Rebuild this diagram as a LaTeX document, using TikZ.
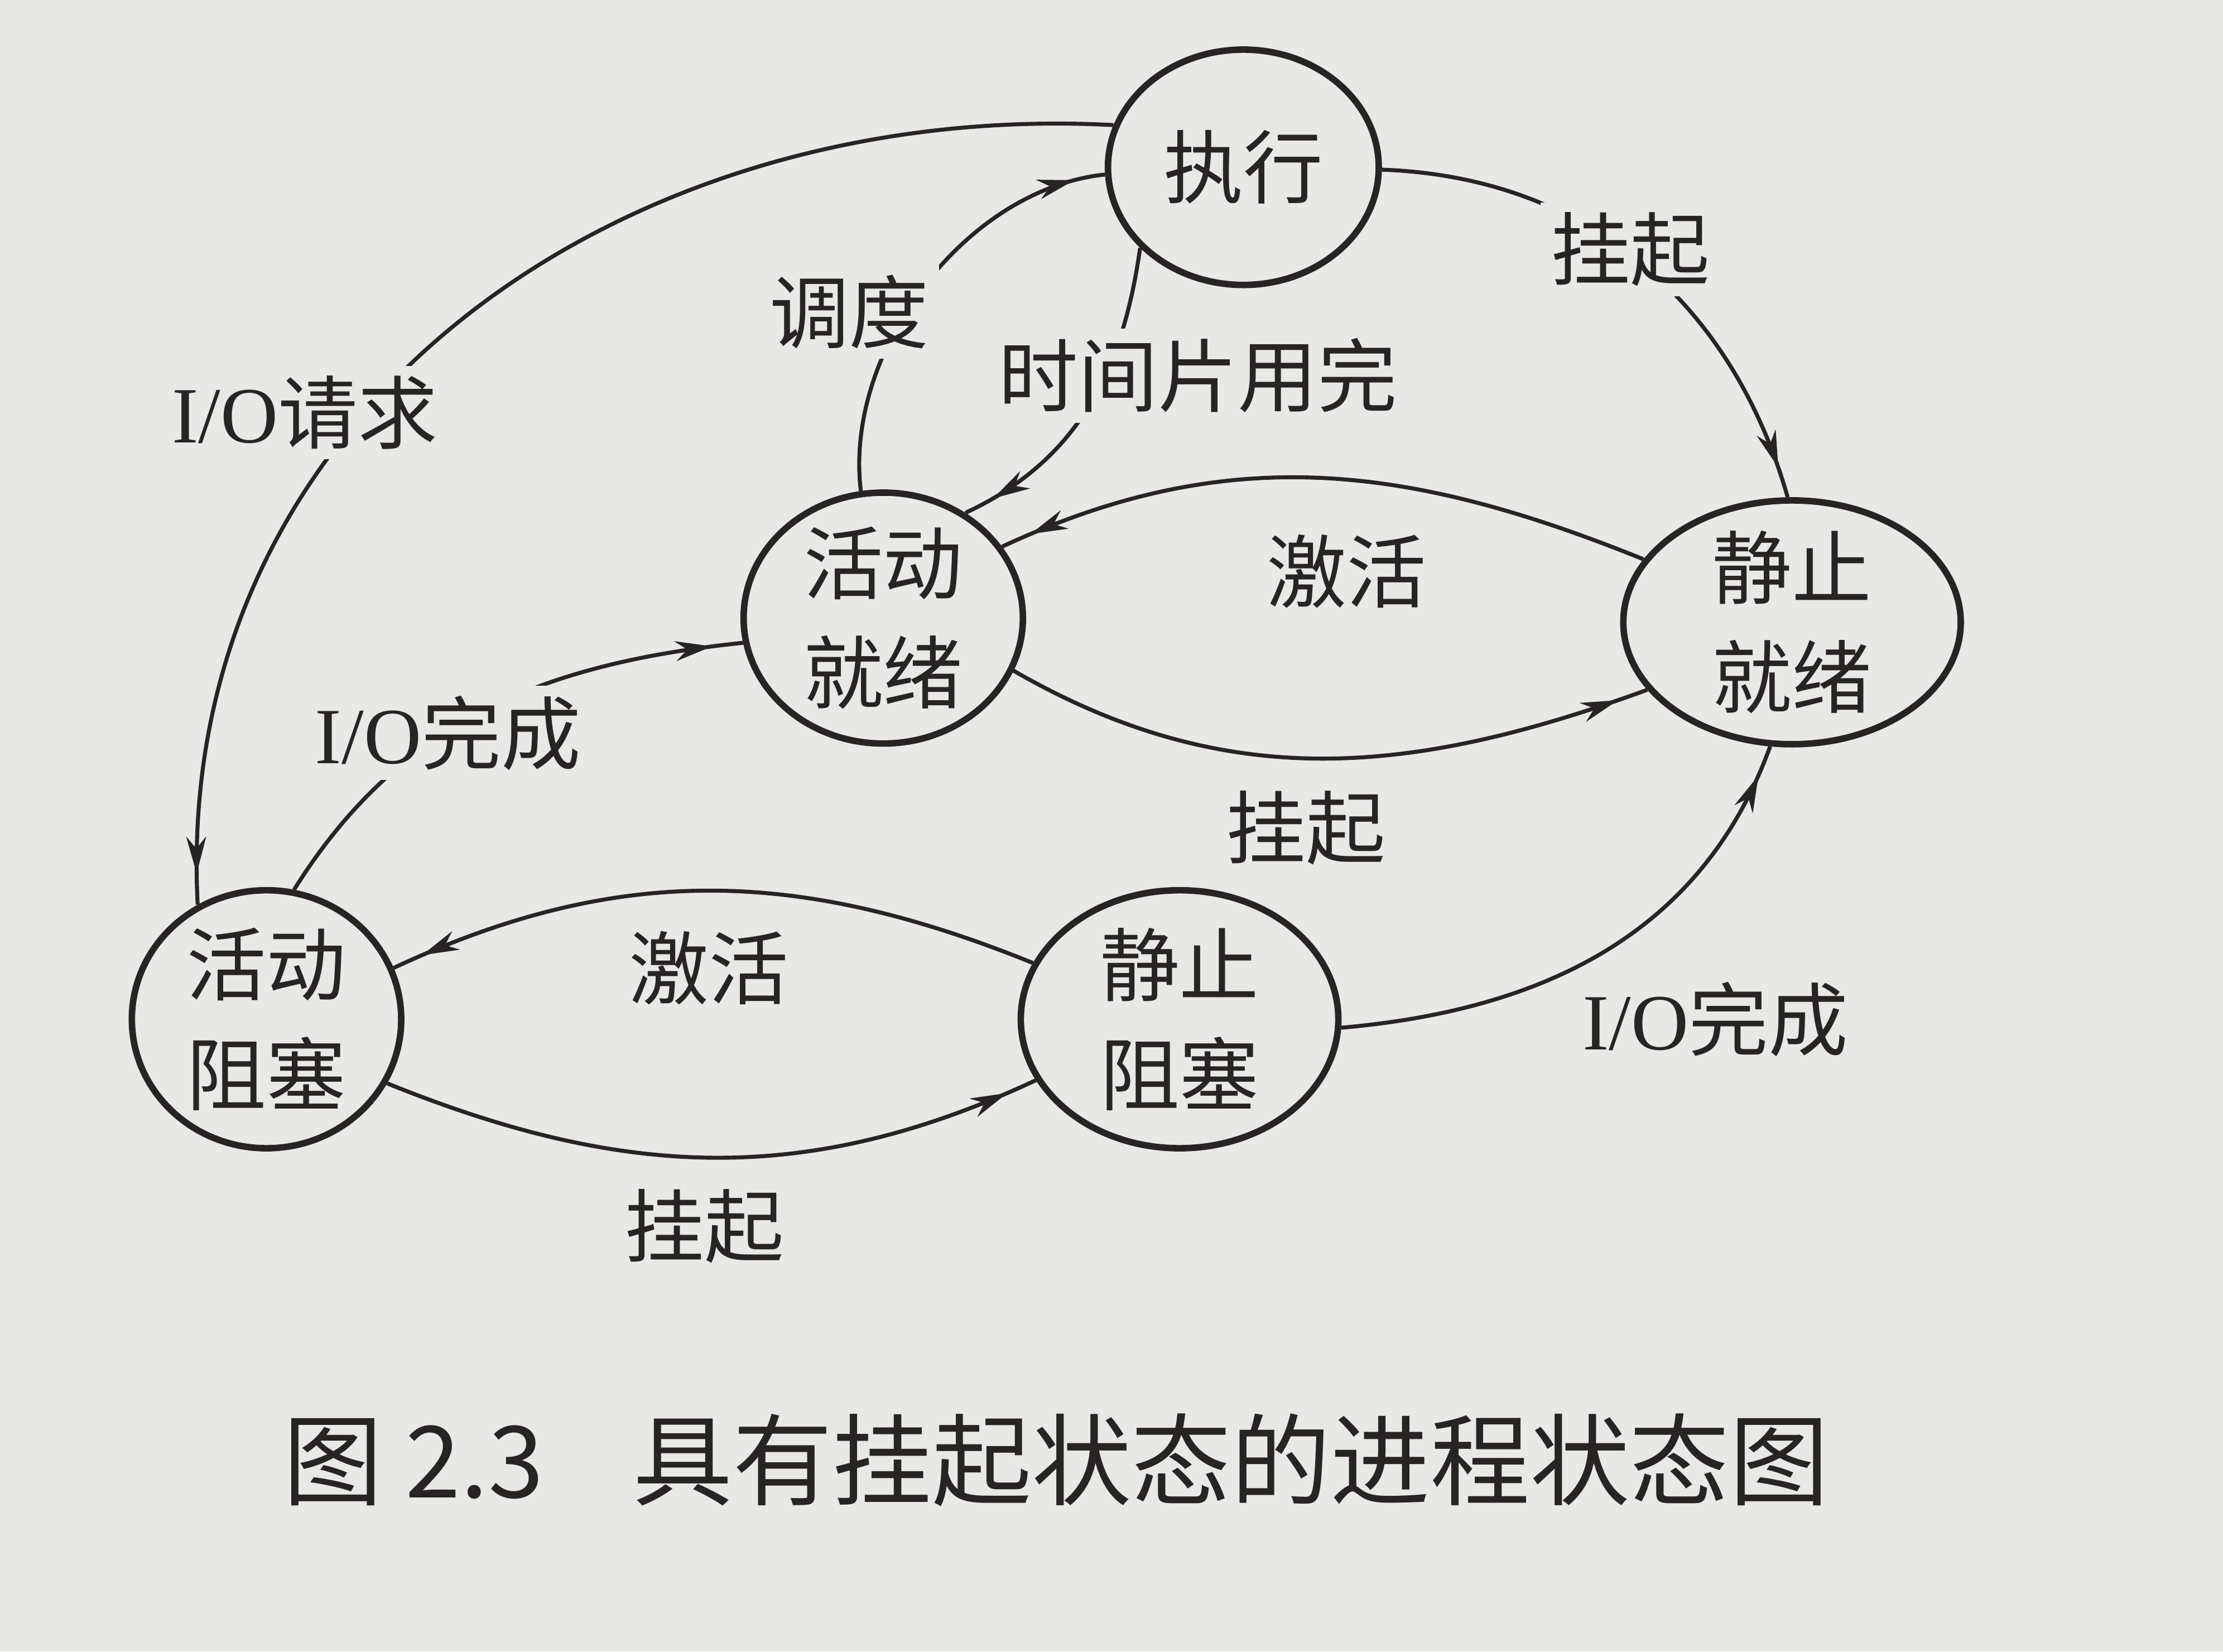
\documentclass[tikz,border=0pt]{standalone}
\usepackage{fontspec}
\setmainfont{Liberation Serif}
\newfontfamily\cjk{Noto Sans CJK SC}
\usepackage{xcolor}
\usetikzlibrary{shapes.geometric,arrows.meta,decorations.markings}

\definecolor{paper}{RGB}{232,232,230}
\definecolor{ink}{RGB}{40,36,36}
\newcommand{\ioTxt}{{\rmfamily I/O}}

\begin{document}
\begin{tikzpicture}[
                every node/.style={align=center, text=ink, font=\cjk\fontsize{16}{22}\selectfont},
                main node/.style={draw=ink, ellipse, line width=1.3pt, inner sep=-3pt},
                edge/.style={color=ink, line width=0.8pt, postaction={decorate},
                    decoration={markings, mark=at position -0.22cm with {\arrow{Stealth[length=2.6mm,width=1.4mm]}}}},
                lbl/.style={fill=paper, inner sep=2pt}
            ]

            % Paper
            \fill[paper] (0,0) rectangle (15.68,11.65);
            \useasboundingbox (0,0) rectangle (15.68,11.65);

            % Nodes
            \node[main node, minimum width=1.91cm, minimum height=1.66cm] (E) at (8.77,10.47) {执行};
            \node[main node, minimum width=1.97cm, minimum height=1.77cm] (AR) at (6.23,7.29) {活动\\就绪};
            \node[main node, minimum width=2.38cm, minimum height=1.72cm] (SR) at (12.64,7.26) {静止\\就绪};
            \node[main node, minimum width=1.90cm, minimum height=1.82cm] (AB) at (1.88,4.46) {活动\\阻塞};
            \node[main node, minimum width=2.24cm, minimum height=1.82cm] (SB) at (8.32,4.46) {静止\\阻塞};

            % Edges
            \draw[edge] (E.162) to[out=177,in=93,looseness=1.05] (AB.121);
            \draw[edge] (AR.100) to[out=97,in=186,looseness=0.9] (E.183);
            \draw[edge] (E.218) to[out=262,in=25] (AR.52);
            \draw[edge] (E.359) to[out=358,in=106] (SR.92);
            \draw[edge] (SR.157) to[out=158,in=25] (AR.31);
            \draw[edge] (AR.338) to[out=330,in=200] (SR.205);
            \draw[edge] (AB.78) to[out=58,in=186] (AR.190);
            \draw[edge] (SB.159) to[out=158,in=25] (AB.22);
            \draw[edge] (AB.332) to[out=338,in=205] (SB.203);
            \draw[edge] (SB.357) to[out=5,in=250] (SR.260);

            % Labels
            \node[lbl] (tIOreq) at (2.15,8.74) {\ioTxt 请求};
            \node[lbl] (tSched) at (5.99,9.45) {调度};
            \node[lbl] (tSlice) at (8.45,9.00) {时间片用完};
            \node[lbl] (tSusA) at (11.50,9.89) {挂起};
            \node (tActA) at (9.50,7.62) {激活};
            \node (tSusB) at (9.21,5.81) {挂起};
            \node[lbl] (tIOdoneA) at (3.16,6.48) {\ioTxt 完成};
            \node (tActB) at (5.00,4.82) {激活};
            \node (tSusC) at (4.97,3.00) {挂起};
            \node (tIOdoneB) at (12.10,4.46) {\ioTxt 完成};

            % Caption
            \node[font=\cjk\fontsize{20}{24}\selectfont] (cap) at (7.45,1.35) {图 2.3\hspace{0.9em}具有挂起状态的进程状态图};

            \end{tikzpicture}
\end{document}
